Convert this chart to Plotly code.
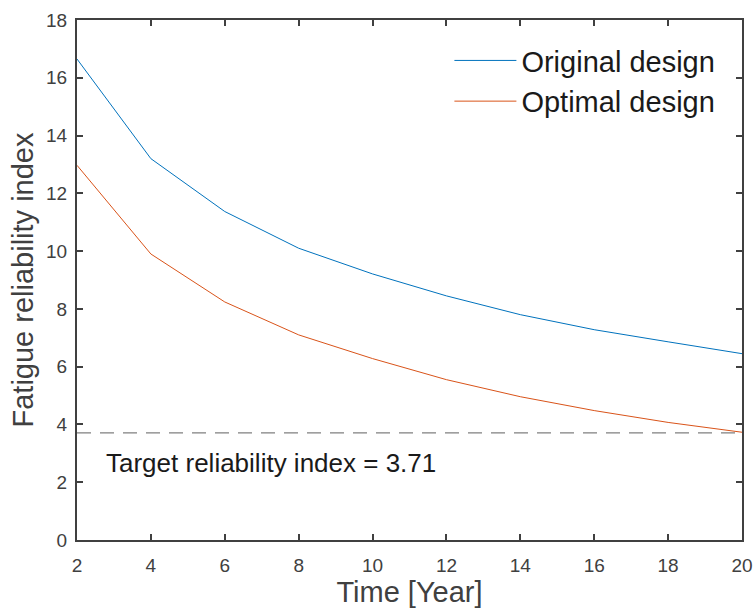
import plotly.graph_objects as go

years = [2, 4, 6, 8, 10, 12, 14, 16, 18, 20]
original = [16.65, 13.2, 11.37, 10.1, 9.21, 8.45, 7.8, 7.28, 6.86, 6.45]
optimal = [12.97, 9.9, 8.24, 7.1, 6.28, 5.55, 4.96, 4.48, 4.07, 3.73]
target = 3.71

font = "Liberation Sans, Arial, sans-serif"
axis_col = "#404040"

fig = go.Figure()
fig.add_trace(go.Scatter(x=years, y=original, mode="lines", name="Original design",
                         line=dict(color="#0072BD", width=1)))
fig.add_trace(go.Scatter(x=years, y=optimal, mode="lines", name="Optimal design",
                         line=dict(color="#D95319", width=1)))
fig.add_trace(go.Scatter(x=[years[0], years[-1]], y=[target, target], mode="lines",
                         showlegend=False, line=dict(color="#808080", width=1.2, dash="14px,9px")))

fig.add_annotation(x=2.73, y=2.68, xref="x", yref="y", text=f"Target reliability index = {target}",
                   showarrow=False, xanchor="left", yanchor="middle",
                   font=dict(family=font, size=26, color="#1a1a1a"))

axcommon = dict(showgrid=False, zeroline=False, showline=True, linecolor=axis_col, linewidth=2,
                mirror="ticks", ticks="inside", ticklen=6, tickwidth=1.5, tickcolor=axis_col,
                automargin=False,
                tickfont=dict(family=font, size=19, color=axis_col))

fig.update_layout(
    width=754, height=613,
    margin=dict(l=77, r=12, t=20, b=73, autoexpand=False),
    plot_bgcolor="white", paper_bgcolor="white",
    xaxis=dict(range=[2, 20], tickmode="array", tickvals=years, ticklabelstandoff=7,
               title=dict(text="Time [Year]", font=dict(family=font, size=29, color=axis_col), standoff=4),
               **axcommon),
    yaxis=dict(range=[0, 18], tickmode="array", tickvals=list(range(0, 19, 2)), ticklabelstandoff=4,
               title=dict(text="Fatigue reliability index", font=dict(family=font, size=29, color=axis_col), standoff=4),
               **axcommon),
    legend=dict(x=0.56, y=0.971, xanchor="left", yanchor="top", bgcolor="rgba(0,0,0,0)",
                font=dict(family=font, size=29, color="#1a1a1a"), itemwidth=62, tracegroupgap=0),
    showlegend=True,
)

fig.write_html("out.html")
